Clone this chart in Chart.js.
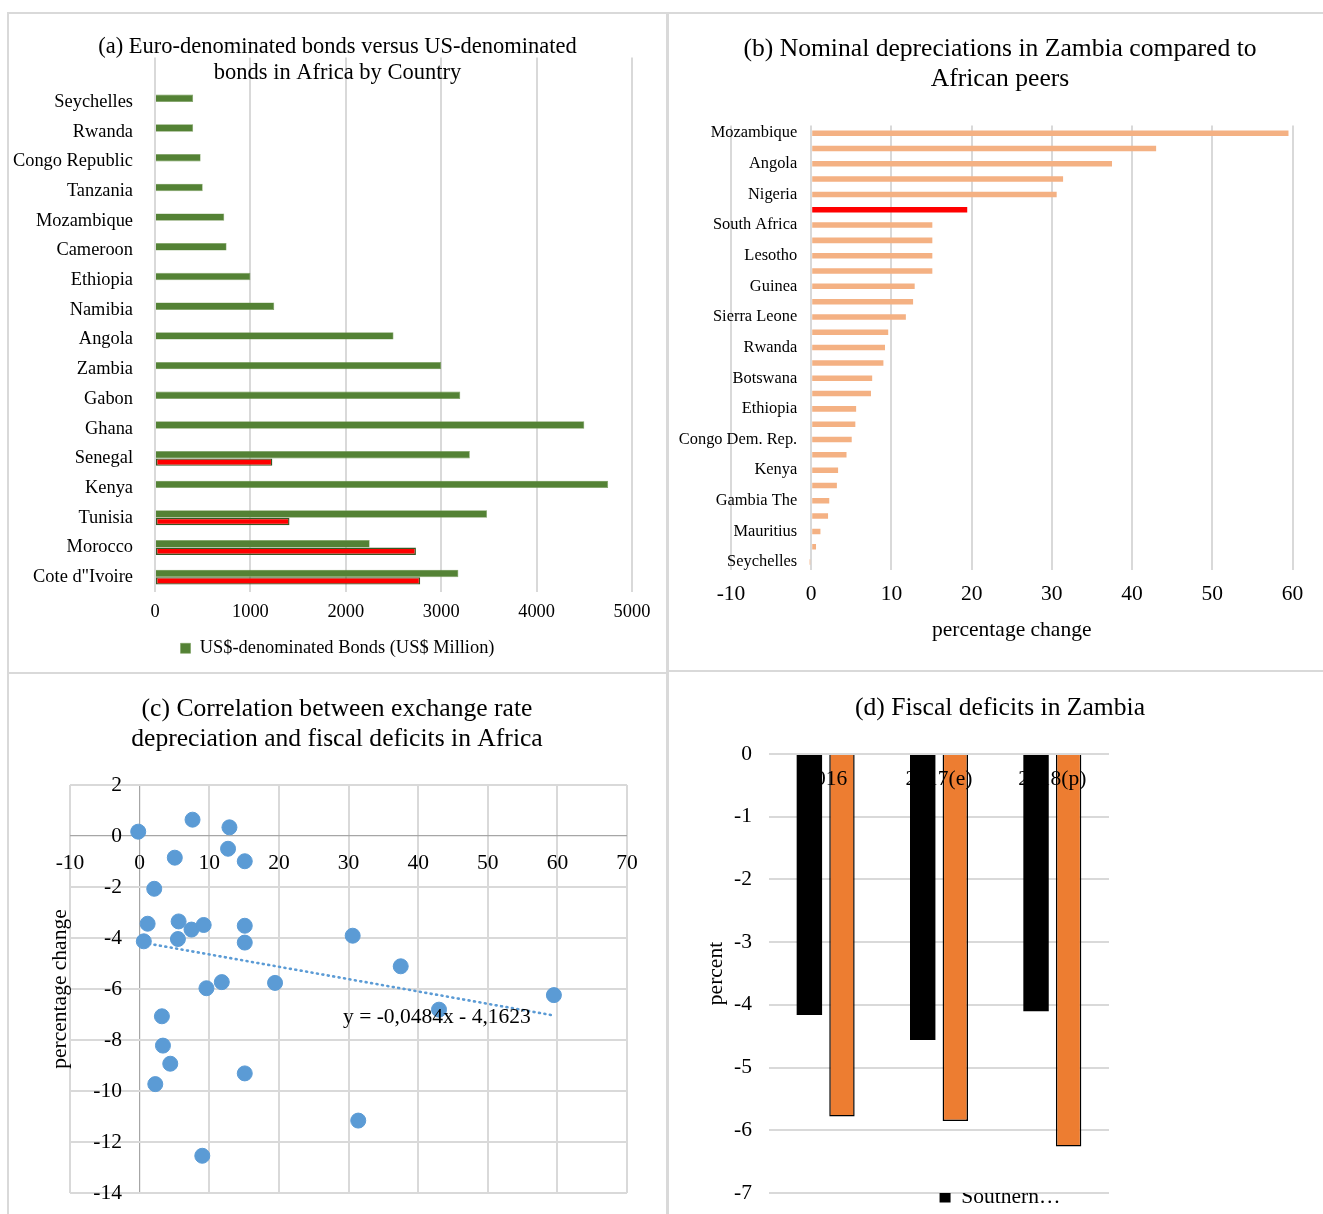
<!DOCTYPE html>
<html>
<head>
<meta charset="utf-8">
<script src="https://cdn.jsdelivr.net/npm/chart.js"></script>
<style>
  html, body { margin: 0; padding: 0; background: #fff; overflow: hidden; width: 1323px; height: 1214px; position: relative; }
  canvas { position: absolute; }
  .rule { position: absolute; background: #d9d9d9; }
</style>
</head>
<body>
<div class="rule" style="left:7px;top:12px;width:1316px;height:2px"></div>
<div class="rule" style="left:7px;top:12px;width:2px;height:1202px"></div>
<div class="rule" style="left:666px;top:12px;width:3px;height:1202px"></div>
<div class="rule" style="left:9px;top:672px;width:657px;height:2px"></div>
<div class="rule" style="left:669px;top:670px;width:654px;height:2px"></div>

<canvas id="chartA" width="656" height="656" style="left:9px;top:14px"></canvas>
<canvas id="chartB" width="654" height="656" style="left:669px;top:14px"></canvas>
<canvas id="chartC" width="656" height="540" style="left:9px;top:674px"></canvas>
<canvas id="chartD" width="654" height="560" style="left:669px;top:674px"></canvas>

<script>
// (a) bonds by country, US$ million (first row is an empty category)
const bondCountries = ['', 'Seychelles', 'Rwanda', 'Congo Republic', 'Tanzania', 'Mozambique', 'Cameroon',
  'Ethiopia', 'Namibia', 'Angola', 'Zambia', 'Gabon', 'Ghana', 'Senegal', 'Kenya', 'Tunisia', 'Morocco', 'Cote d"Ivoire'];
const usdBonds  = [null, 400, 400, 478, 500, 726, 750, 1000, 1250, 2500, 3000, 3200, 4500, 3300, 4750, 3480, 2250, 3180];
const euroBonds = [null, null, null, null, null, null, null, null, null, null, null, null, null, 1230, null, 1410, 2735, 2780];
const bondTicks = [0, 1000, 2000, 3000, 4000, 5000];

// (b) nominal depreciation, percent (only every other country is labelled)
const depCountries = ['Mozambique', '', 'Angola', '', 'Nigeria', 'Zambia', 'South Africa', '', 'Lesotho', '',
  'Guinea', '', 'Sierra Leone', '', 'Rwanda', '', 'Botswana', '', 'Ethiopia', '', 'Congo Dem. Rep.', '',
  'Kenya', '', 'Gambia The', '', 'Mauritius', '', 'Seychelles'];
const depValues = [59.5, 43.0, 37.5, 31.4, 30.6, 19.45, 15.1, 15.1, 15.1, 15.1, 12.9, 12.7, 11.8, 9.6, 9.2, 9.0,
  7.6, 7.45, 5.6, 5.5, 5.05, 4.4, 3.35, 3.2, 2.25, 2.1, 1.15, 0.6, -0.2];
const depTicks = [-10, 0, 10, 20, 30, 40, 50, 60];

// (c) depreciation (x) vs fiscal balance (y)
const corrX = [-0.2, 7.6, 12.9, 12.7, 5.05, 15.1, 2.1, 1.15, 5.6, 7.45, 9.2, 15.1, 0.6, 5.5, 15.1,
  30.6, 37.5, 11.8, 9.6, 19.45, 43.0, 59.5, 3.2, 3.35, 4.4, 2.25, 15.1, 31.4, 9.0];
const corrY = [0.17, 0.64, 0.34, -0.50, -0.85, -0.99, -2.07, -3.44, -3.35, -3.67, -3.49, -3.52, -4.13, -4.04, -4.18,
  -3.91, -5.11, -5.73, -5.97, -5.76, -6.81, -6.24, -7.07, -8.22, -8.93, -9.73, -9.31, -11.16, -12.54];
const trendX = [-0.2, 59.5];
const trendY = [-4.15, -7.04];
const trendEquation = 'y = -0,0484x - 4,1623';
const corrXTicks = [-10, 0, 10, 20, 30, 40, 50, 60, 70];
const corrYTicks = [-14, -12, -10, -8, -6, -4, -2, 0, 2];

// (d) fiscal deficits, percent
const fiscalYears = ['2016', '2017(e)', '2018(p)'];
const southernDeficit = [-4.16, -4.56, -4.10];
const zambiaDeficit = [-5.78, -5.85, -6.26];
const fiscalTicks = [-7, -6, -5, -4, -3, -2, -1, 0];

Chart.defaults.font.family = '"Liberation Serif", "Times New Roman", serif';
Chart.defaults.color = '#000';
Chart.defaults.animation = false;
Chart.defaults.responsive = false;
Chart.defaults.devicePixelRatio = 1;
Chart.defaults.events = [];
Chart.defaults.plugins.legend.display = false;
Chart.defaults.plugins.tooltip.enabled = false;

const GRID = '#d9d9d9';
const step = arr => arr[1] - arr[0];
const plain = v => String(v);
// empty axis used only to reserve room so titles and legends stay centred
const spacer = (position, width, extra) => Object.assign({
  type: 'linear', position,
  ticks: { display: false },
  grid: { display: false, drawTicks: false },
  border: { display: false },
  afterFit: s => { s.width = width; }
}, extra || {});

// (a)
new Chart(document.getElementById('chartA'), {
  type: 'bar',
  data: {
    labels: bondCountries,
    datasets: [
      { label: 'US$-denominated Bonds (US$ Million)', data: usdBonds, backgroundColor: '#548235',
        borderColor: '#7a9e5e', borderWidth: 0.6, categoryPercentage: 0.5, barPercentage: 1 },
      { label: 'Euro-denominated Bonds (US$ Million)', data: euroBonds, backgroundColor: '#ff0000',
        borderColor: '#375623', borderWidth: 1.4, borderSkipped: false, categoryPercentage: 0.5, barPercentage: 1 }
    ]
  },
  options: {
    indexAxis: 'y',
    layout: { padding: { left: 2, right: 1, top: 0, bottom: 2.5 } },
    plugins: {
      title: {
        display: true,
        text: ['(a) Euro-denominated bonds versus US-denominated', 'bonds in Africa by Country'],
        font: { size: 22.5, weight: 'normal', lineHeight: 26 / 22.5 },
        padding: { top: 20.5, bottom: -29 }
      },
      legend: {
        display: true,
        position: 'bottom',
        labels: { filter: item => item.datasetIndex === 0, boxWidth: 10, boxHeight: 10, padding: 5.8, font: { size: 18.4 } }
      }
    },
    scales: {
      x: {
        min: bondTicks[0], max: bondTicks[bondTicks.length - 1],
        ticks: { stepSize: step(bondTicks), padding: 9.6, font: { size: 18.4 }, callback: plain, maxRotation: 0 },
        grid: { color: GRID, lineWidth: 2, drawTicks: false },
        border: { display: false }
      },
      y: {
        ticks: { autoSkip: false, padding: 22, font: { size: 18.4 } },
        grid: { display: false, drawTicks: false },
        border: { display: false },
        afterFit: s => { s.width = 144; }
      },
      pad: spacer('right', 32)
    }
  }
});

// (b)
new Chart(document.getElementById('chartB'), {
  type: 'bar',
  data: {
    labels: depCountries,
    datasets: [{
      label: 'Nominal depreciation',
      data: depValues,
      backgroundColor: depCountries.map(c => c === 'Zambia' ? '#ff0000' : '#f4b183'),
      categoryPercentage: 1, barPercentage: 0.36
    }]
  },
  options: {
    indexAxis: 'y',
    layout: { padding: { left: 38.5, right: 30.5, top: 0, bottom: 27.1 } },
    plugins: {
      title: {
        display: true,
        text: ['(b) Nominal depreciations in Zambia compared to', 'African peers'],
        font: { size: 25.6, weight: 'normal', lineHeight: 30 / 25.6 },
        padding: { top: 20, bottom: 31.5 }
      }
    },
    scales: {
      x: {
        min: depTicks[0], max: depTicks[depTicks.length - 1],
        ticks: { stepSize: step(depTicks), padding: 11.4, font: { size: 21.5 }, maxRotation: 0 },
        grid: { color: GRID, lineWidth: 2, drawTicks: false },
        border: { display: false },
        title: { display: true, text: 'percentage change', font: { size: 21.5 }, padding: { top: -1.2, bottom: 0 } }
      },
      y: {
        position: { x: -1.75 },
        ticks: { autoSkip: false, padding: 0, font: { size: 16.4 }, callback: (v, i) => i % 2 === 0 ? depCountries[i] : '' },
        grid: { display: false, drawTicks: false },
        border: { display: false }
      },
      pad: spacer('left', 23.5)
    }
  }
});

// (c)
const equationLabel = {
  id: 'equationLabel',
  afterDatasetsDraw(chart) {
    const { ctx, scales: { x, y } } = chart;
    ctx.save();
    ctx.font = '21.5px "Liberation Serif"';
    ctx.fillStyle = '#000';
    ctx.textAlign = 'center';
    ctx.textBaseline = 'middle';
    ctx.fillText(trendEquation, x.getPixelForValue(42.7), y.getPixelForValue(-7.1));
    ctx.restore();
  }
};
const isZero = ctx => ctx.tick && ctx.tick.value === 0;
const zeroGrid = ctx => isZero(ctx) ? '#a6a6a6' : GRID;
const zeroWidth = ctx => isZero(ctx) ? 1.2 : 2;

new Chart(document.getElementById('chartC'), {
  type: 'scatter',
  data: {
    datasets: [
      { label: 'Countries', data: corrX.map((x, i) => ({ x, y: corrY[i] })),
        backgroundColor: '#5b9bd5', borderColor: '#5b9bd5', pointRadius: 7.5 },
      { type: 'line', label: 'Linear trend', data: trendX.map((x, i) => ({ x, y: trendY[i] })),
        showLine: true, borderColor: '#5b9bd5', borderWidth: 2.6, borderDash: [1, 4.5], borderCapStyle: 'round',
        pointRadius: 0, fill: false }
    ]
  },
  options: {
    layout: { padding: { left: 38, right: 38, top: 0, bottom: 21 } },
    plugins: {
      title: {
        display: true,
        text: ['(c) Correlation between exchange rate', 'depreciation and fiscal deficits in Africa'],
        font: { size: 25.6, weight: 'normal', lineHeight: 30 / 25.6 },
        padding: { top: 20, bottom: 31 }
      }
    },
    scales: {
      x: {
        type: 'linear',
        position: { y: -0.55 },
        min: corrXTicks[0], max: corrXTicks[corrXTicks.length - 1],
        ticks: { stepSize: step(corrXTicks), padding: 0, font: { size: 21.5 }, maxRotation: 0 },
        grid: { color: zeroGrid, lineWidth: zeroWidth, drawTicks: false },
        border: { display: false }
      },
      y: {
        position: { x: -2.53 },
        min: corrYTicks[0], max: corrYTicks[corrYTicks.length - 1],
        ticks: { stepSize: step(corrYTicks), padding: 0, font: { size: 21.5 } },
        grid: { color: zeroGrid, lineWidth: zeroWidth, drawTicks: false },
        border: { display: false }
      },
      yTitle: spacer('left', 23, {
        title: { display: true, text: 'percentage change', font: { size: 21.5 }, padding: { top: 0, bottom: 0 } }
      })
    }
  },
  plugins: [equationLabel]
});

// (d)
new Chart(document.getElementById('chartD'), {
  type: 'bar',
  data: {
    labels: fiscalYears,
    datasets: [
      { label: 'Southern\u2026', data: southernDeficit, backgroundColor: '#000000',
        categoryPercentage: 0.575, barPercentage: 0.78 },
      { label: 'Zambia', data: zambiaDeficit, backgroundColor: '#ed7d31', borderColor: '#000000', borderWidth: 1.5,
        categoryPercentage: 0.575, barPercentage: 0.78 }
    ]
  },
  options: {
    layout: { padding: { left: 8, right: 0, top: 0, bottom: 16.25 } },
    plugins: {
      title: {
        display: true,
        text: '(d) Fiscal deficits in Zambia',
        font: { size: 25.6, weight: 'normal', lineHeight: 30 / 25.6 },
        padding: { top: 19, bottom: 31 }
      },
      legend: {
        display: true,
        position: 'bottom',
        labels: { filter: item => item.datasetIndex === 0, boxWidth: 11, boxHeight: 11, padding: -6.75, font: { size: 21.5 } }
      }
    },
    scales: {
      x: {
        position: { y: -0.193 },
        ticks: { z: 1, padding: 0, font: { size: 21.5 }, maxRotation: 0 },
        grid: { display: false, drawTicks: false },
        border: { display: false }
      },
      y: {
        min: fiscalTicks[0], max: fiscalTicks[fiscalTicks.length - 1],
        ticks: { stepSize: step(fiscalTicks), padding: 17, font: { size: 21.5 } },
        grid: { color: GRID, lineWidth: 2, drawTicks: false },
        border: { display: false },
        title: { display: true, text: 'percent', font: { size: 21.5 }, padding: { top: 26.1, bottom: 4 } },
        afterFit: s => { s.width = 92; }
      },
      pad: spacer('right', 214)
    }
  }
});
</script>
</body>
</html>
